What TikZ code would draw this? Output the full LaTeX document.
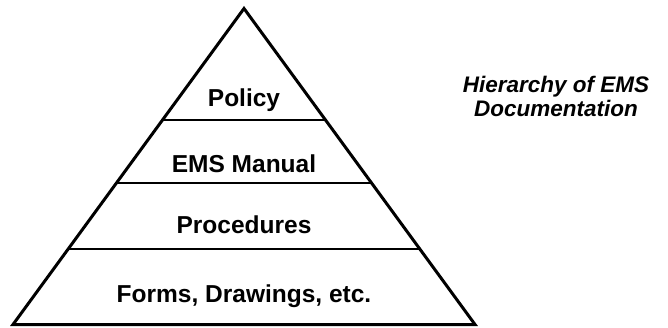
\documentclass[tikz,border=0pt]{standalone}
\usepackage{fontspec}
\setmainfont{Liberation Sans}
\usetikzlibrary{calc}
\begin{document}
\begin{tikzpicture}[x=1pt,y=-1pt,
  tier/.style={font=\fontsize{24.5}{28}\selectfont\bfseries, anchor=base, inner sep=0pt},
  title/.style={font=\fontsize{22.5}{24}\selectfont\bfseries\itshape, align=center, anchor=base, inner sep=0pt},
  edge/.style={line width=3pt, line join=miter},
  divider/.style={line width=2pt}]
\useasboundingbox (0,0) rectangle (668,327);
\coordinate (apex) at (244,8.5);
\coordinate (bl) at (13,324.5);
\coordinate (br) at (475,324.5);
% dividers
\foreach \t/\n in {0.3521/a,0.5513/b,0.7601/c}{
  \coordinate (l\n) at ($(apex)!\t!(bl)$);
  \coordinate (r\n) at ($(apex)!\t!(br)$);
  \draw[divider] (l\n) -- (r\n);
}
\draw[edge] (apex) -- (br) -- (bl) -- cycle;
\node[tier] (policy) at (244,106) {Policy};
\node[tier] (manual) at (244,172) {EMS Manual};
\node[tier] (proc) at (244,233) {Procedures};
\node[tier] (forms) at (244,302) {Forms, Drawings, etc.};
\node[title] (t1) at (556,92) {Hierarchy of EMS};
\node[title] (t2) at (556,116) {Documentation};
\end{tikzpicture}
\end{document}
